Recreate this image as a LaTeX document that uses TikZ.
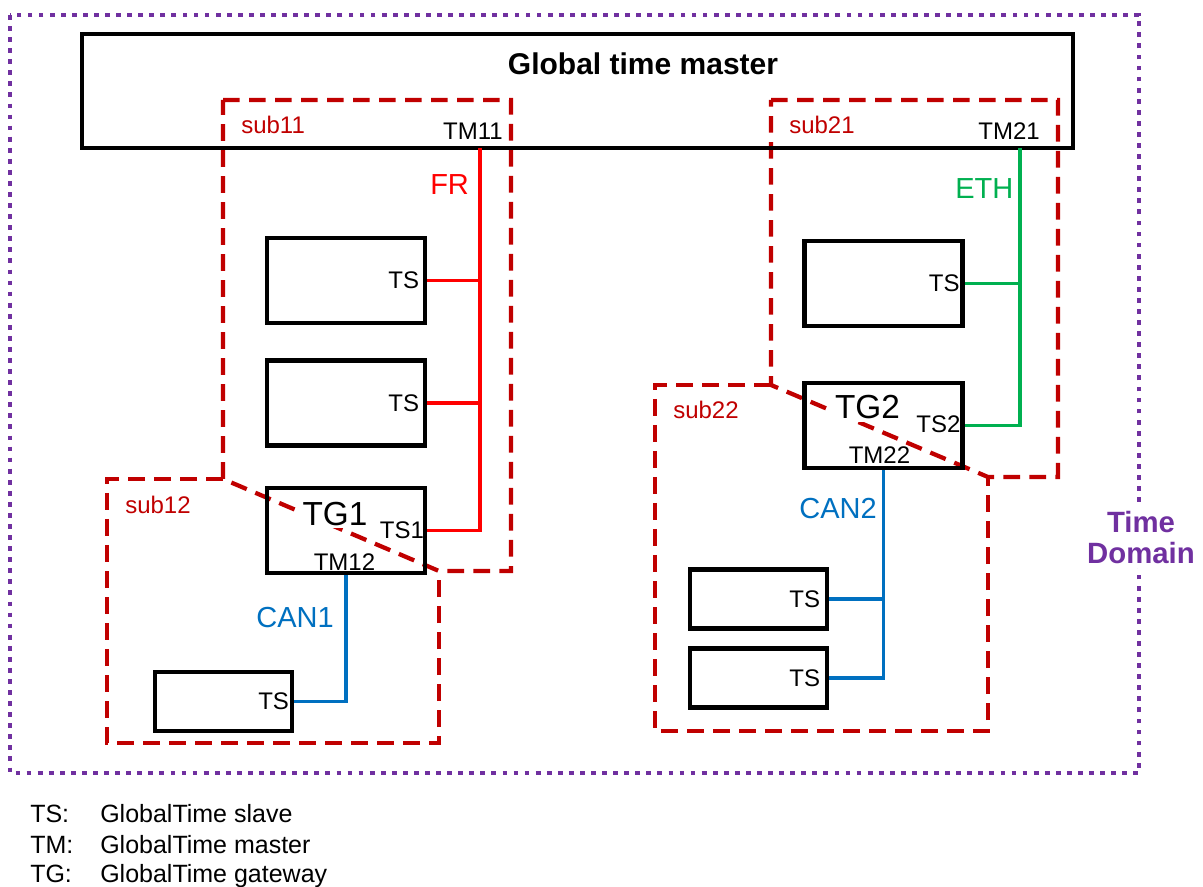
\documentclass[tikz,border=0pt]{standalone}
\usepackage{fontspec}
\setmainfont{Liberation Sans}
\usetikzlibrary{calc}
\definecolor{subred}{HTML}{C00000}
\definecolor{frred}{HTML}{FF0000}
\definecolor{ethgreen}{HTML}{00B050}
\definecolor{canblue}{HTML}{0070C0}
\definecolor{tdpurple}{HTML}{7030A0}
\begin{document}
\begin{tikzpicture}[x=0.75pt,y=-0.75pt,
  box/.style={draw=black, line width=3.4pt, inner sep=0pt, minimum width=118.5pt, minimum height=63.75pt},
  sbox/.style={box, minimum width=102.75pt, minimum height=44pt},
  lbl/.style={inner sep=0pt, font=\fontsize{18}{21}\selectfont},
  sublbl/.style={lbl, text=subred},
  buslbl/.style={inner sep=0pt, font=\fontsize{21.75}{26}\selectfont},
  tglbl/.style={inner sep=2pt, fill=white, font=\fontsize{25}{30}\selectfont},
  region/.style={draw=subred, line width=3.2pt, dash pattern=on 12.5pt off 7pt},
  frline/.style={draw=frred, line width=2.8pt},
  ethline/.style={draw=ethgreen, line width=2.8pt},
  canline/.style={draw=canblue, line width=2.8pt},
  legend/.style={inner sep=0pt, font=\fontsize{18.75}{22}\selectfont}]
\useasboundingbox (0,0) rectangle (1203,887);

% time domain frame
\draw[tdpurple, line width=3.6pt, dash pattern=on 3.6pt off 4.7pt] (10,15) rectangle (1139,773);

% sub-domain regions
\draw[region] (223,100) -- (511,100) -- (511,571) -- (439,571) -- (223,479) -- cycle;
\draw[region] (223,479) -- (107,479) -- (107,743) -- (439,743) -- (439,571);
\draw[region] (771,100) -- (1058,100) -- (1058,477) -- (988,477) -- (771,385) -- cycle;
\draw[region] (771,385) -- (655,385) -- (655,731) -- (988,731) -- (988,477);

% boxes
\node[draw=black, line width=3.6pt, inner sep=0pt, minimum width=743.25pt, minimum height=85.5pt] (gtm) at (577.5,91) {};
\node[box] (ts11) at (346,280.5) {};
\node[box] (ts12) at (346,403) {};
\node[box] (tg1) at (346,530.5) {};
\node[sbox] (ts13) at (223.5,701.5) {};
\node[box] (ts21) at (883.5,283.5) {};
\node[box] (tg2) at (883.5,425.5) {};
\node[sbox] (ts22a) at (758.5,599) {};
\node[sbox] (ts22b) at (758.5,678) {};

% connectors
\coordinate (fr0) at (480,148);
\coordinate (eth0) at (1020,148);
\draw[frline] (fr0) |- (tg1.east);
\draw[frline] (ts11.east) -- (ts11.east -| fr0);
\draw[frline] (ts12.east) -- (ts12.east -| fr0);
\draw[ethline] (eth0) |- (tg2.east);
\draw[ethline] (ts21.east) -- (ts21.east -| eth0);
\draw[canline] (tg1.south) |- (ts13.east);
\draw[canline] (tg2.south) |- (ts22b.east);
\draw[canline] (ts22a.east) -- (ts22a.east -| tg2.south);

% labels
\node[inner sep=0pt, font=\bfseries\fontsize{22.5}{27}\selectfont] (gtmlbl) at (643,63.5) {Global time master};
\node[sublbl, anchor=base west] (sub11) at (241,134) {sub11};
\node[sublbl, anchor=base west] (sub21) at (789,134) {sub21};
\node[sublbl, anchor=base west] (sub12) at (125,513) {sub12};
\node[sublbl, anchor=base west] (sub22) at (673,419) {sub22};
\node[lbl, anchor=base east] (tm11) at (503,140) {TM11};
\node[lbl, anchor=base east] (tm21) at (1040,140) {TM21};
\node[buslbl, text=frred, anchor=base west] (frl) at (430,195) {FR};
\node[buslbl, text=ethgreen, anchor=base west] (ethl) at (955,199) {ETH};
\node[buslbl, text=canblue, anchor=base east] (can1l) at (334,627) {CAN1};
\node[buslbl, text=canblue, anchor=base east] (can2l) at (877,519) {CAN2};

\node[lbl, anchor=east] (ts11l) at ($(ts11.east)+(-8,0)$) {TS};
\node[lbl, anchor=east] (ts12l) at ($(ts12.east)+(-8,0)$) {TS};
\node[lbl, anchor=east] (ts13l) at ($(ts13.east)+(-5,0)$) {TS};
\node[lbl, anchor=east] (ts21l) at ($(ts21.east)+(-5,0)$) {TS};
\node[lbl, anchor=east] (ts22al) at ($(ts22a.east)+(-9,0)$) {TS};
\node[lbl, anchor=east] (ts22bl) at ($(ts22b.east)+(-9,0)$) {TS};

\node[tglbl] (tg1l) at (335,514) {TG1};
\node[tglbl] (tg2l) at (867.5,407.5) {TG2};
\node[lbl, anchor=east] (ts1l) at ($(tg1.east)+(-3,0)$) {TS1};
\node[lbl, anchor=east] (ts2l) at ($(tg2.east)+(-4,-1)$) {TS2};
\node[lbl, anchor=base] (tm12l) at (344.5,570.5) {TM12};
\node[lbl, anchor=base] (tm22l) at (879.5,464) {TM22};

\node[fill=white, inner sep=3pt, align=center, text=tdpurple, font=\bfseries\fontsize{22}{23.25}\selectfont] (tdl) at (1141,537.5) {Time\\Domain};

% legend
\node[legend, anchor=base west] (lk1) at (30,822) {TS:};
\node[legend, anchor=base west] (lv1) at (100,822) {GlobalTime slave};
\node[legend, anchor=base west] (lk2) at (30,853) {TM:};
\node[legend, anchor=base west] (lv2) at (100,853) {GlobalTime master};
\node[legend, anchor=base west] (lk3) at (30,882) {TG:};
\node[legend, anchor=base west] (lv3) at (100,882) {GlobalTime gateway};
\end{tikzpicture}
\end{document}
